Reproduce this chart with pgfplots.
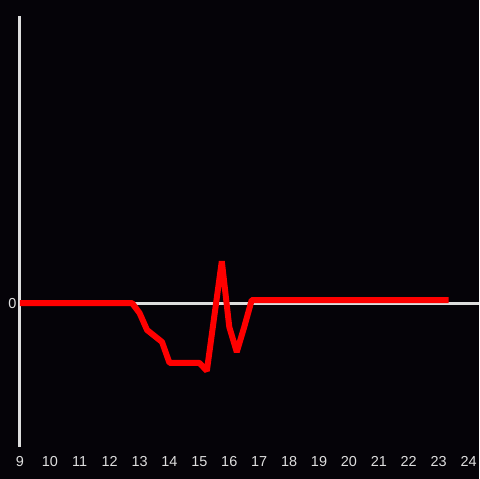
\documentclass[border=0pt]{standalone}
\usepackage{fontspec}
\setmainfont{Liberation Sans}
\usepackage{pgfplots}
\pgfplotsset{compat=1.18}
\definecolor{bg}{RGB}{5,3,8}
\definecolor{axc}{RGB}{222,222,222}
\begin{document}
\begin{tikzpicture}
\fill[bg] (-20pt,-32pt) rectangle (460pt,448pt);
\begin{axis}[
  at={(0,0)}, anchor=south west,
  scale only axis, width=460pt, height=432pt,
  xmin=9, xmax=24.3333, ymin=-144, ymax=288,
  axis lines=left,
  x axis line style={draw=none},
  y axis line style={-, draw=axc, line width=3pt},
  xtick={9,10,...,24}, ytick={0},
  major tick length=0pt,
  ymajorgrids, grid style={axc, line width=3pt},
  tick label style={text=axc, font=\fontsize{14.5}{16}\selectfont},
  /pgf/number format/assume math mode=true,
  xticklabel style={yshift=-6pt},
  clip=false,
]
\addplot[red, line width=6pt, line join=bevel] coordinates {
(9,0) (12.75,0) (13.0,-10) (13.25,-27) (13.5,-33) (13.75,-39) (14.0,-60)
(15.0,-60) (15.25,-68) (15.75,42) (16.0,-24) (16.25,-49) (16.5,-24)
(16.75,3) (23.33,3)
};
\end{axis}
\end{tikzpicture}
\end{document}
